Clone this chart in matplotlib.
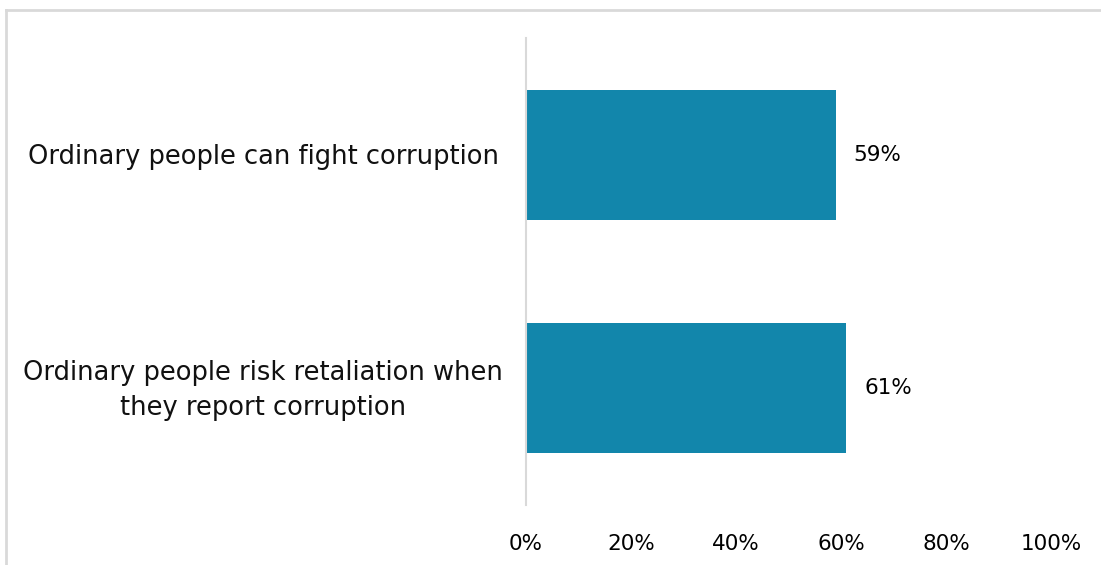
import matplotlib
matplotlib.use("Agg")
import matplotlib.pyplot as plt
import matplotlib.transforms as mtransforms
from matplotlib.lines import Line2D

categories = ["Ordinary people can fight corruption",
              "Ordinary people risk retaliation when\nthey report corruption"]
values = [59, 61]
ticks = [0, 20, 40, 60, 80, 100]
tick_labels = ["0%", "20%", "40%", "60%", "80%", "100%"]

plt.rcParams['font.family'] = ['DejaVu Sans']

fig = plt.figure(figsize=(11.01, 5.65), dpi=100)
ax = fig.add_axes([526/1101, 60/565, 525/1101, 467/565])

y = list(range(len(categories)))
ax.barh(y, values, height=0.556, color="#1286ab")
ax.set_ylim(1.5, -0.5)
ax.set_xlim(0, 100)
ax.set_xticks(ticks)
ax.set_xticklabels(tick_labels, fontsize=15.5, color="#000000")
ax.set_yticks(y)
ax.set_yticklabels([])
ax.tick_params(axis='y', length=0)
ax.tick_params(axis='x', length=0, pad=21)
for s in ["top", "right", "bottom"]:
    ax.spines[s].set_visible(False)
ax.spines["left"].set_color("#d9d9d9")
ax.spines["left"].set_linewidth(1.5)

trans = mtransforms.blended_transform_factory(fig.transFigure, ax.transData)
for yi, lab in zip(y, categories):
    ax.text(263/1101, yi + 0.01, lab, transform=trans, fontsize=18.5, ha="center", va="center",
            multialignment="center", linespacing=1.42, color="#111111")

for yi, v in zip(y, values):
    ax.text(v + 3.4, yi, f"{v}%", va="center", ha="left", fontsize=15.5, color="#000000")

# outer frame (top and left visible)
fig.add_artist(Line2D([6.5/1101, 6.5/1101], [0, 1 - 9.5/565], color="#d9d9d9", lw=2, transform=fig.transFigure))
fig.add_artist(Line2D([6.5/1101, 1], [1 - 9.5/565, 1 - 9.5/565], color="#d9d9d9", lw=2, transform=fig.transFigure))

fig.savefig("out.png", dpi=100)
